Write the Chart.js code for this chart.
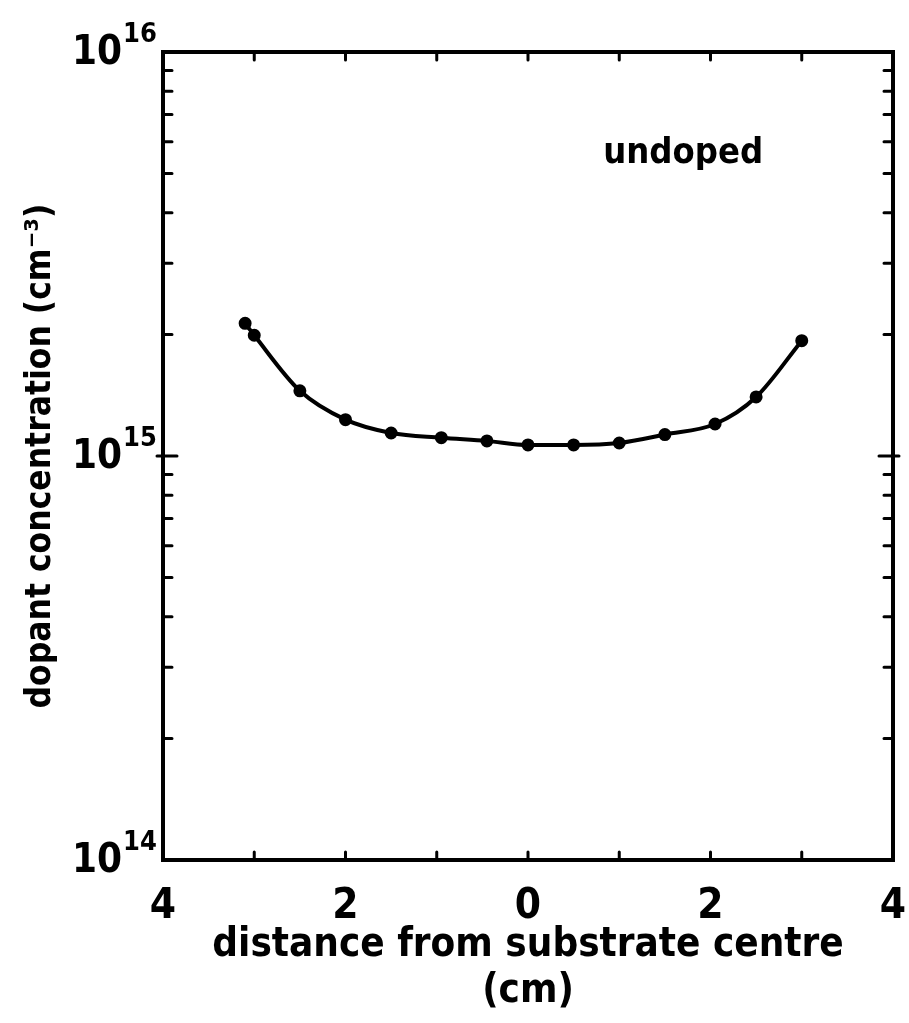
<!DOCTYPE html>
<html>
<head>
<meta charset="utf-8">
<script src="https://cdn.jsdelivr.net/npm/chart.js@4/dist/chart.umd.min.js"></script>
<style>
html,body{margin:0;padding:0;background:#fff;}
#wrap{width:909px;height:1023px;}
</style>
</head>
<body>
<div id="wrap"><canvas id="c" width="909" height="1023"></canvas></div>
<script>
// distance from substrate centre (cm); negative = left side of centre
const distances = [-3.1, -3.0, -2.5, -2.0, -1.5, -0.95, -0.45, 0.0, 0.5, 1.0, 1.5, 2.05, 2.5, 3.0];
// dopant concentration (cm^-3)
const concentrations = [2.13e15, 1.99e15, 1.45e15, 1.23e15, 1.14e15, 1.11e15, 1.09e15, 1.065e15, 1.065e15, 1.077e15, 1.13e15, 1.2e15, 1.4e15, 1.93e15];
const xTickValues = [-4, -2, 0, 2, 4];
const xMinorTicks = [-4, -3, -2, -1, 0, 1, 2, 3, 4];
const yDecades = [14, 15, 16];
const yTickBase = '10';
const annotationText = 'undoped';
const annotationPos = {x: 1.7, y: 5.6e15};

const FONT = '"DejaVu Sans Condensed", "DejaVu Sans", sans-serif';

const points = distances.map((d, i) => ({x: d, y: concentrations[i]}));

const framePlugin = {
  id: 'frame',
  afterDatasetsDraw(chart) {
    const {ctx, chartArea: a, scales: {x, y}} = chart;
    ctx.save();
    ctx.strokeStyle = '#000';
    ctx.lineWidth = 4;
    ctx.lineCap = 'square';
    ctx.strokeRect(a.left, a.top, a.right - a.left, a.bottom - a.top);
    ctx.lineWidth = 3;
    ctx.lineCap = 'round';
    // x ticks (inside, bottom and top)
    xMinorTicks.forEach(v => {
      const px = x.getPixelForValue(v);
      if (Math.abs(px - a.left) < 2 || Math.abs(px - a.right) < 2) return;
      ctx.beginPath();
      ctx.moveTo(px, a.bottom); ctx.lineTo(px, a.bottom - 8);
      ctx.moveTo(px, a.top); ctx.lineTo(px, a.top + 8);
      ctx.stroke();
    });
    // y ticks (inside, left and right), log minor
    for (let e = yDecades[0]; e < yDecades[yDecades.length - 1]; e++) {
      for (let m = 1; m <= 9; m++) {
        const v = m * Math.pow(10, e);
        const py = y.getPixelForValue(v);
        if (Math.abs(py - a.bottom) < 2) continue;
        const len = m === 1 ? 14 : 9;
        ctx.beginPath();
        ctx.moveTo(a.left, py); ctx.lineTo(a.left + len, py);
        ctx.moveTo(a.right, py); ctx.lineTo(a.right - len, py);
        if (m === 1) { ctx.moveTo(a.left, py); ctx.lineTo(a.left - 6, py); ctx.moveTo(a.right, py); ctx.lineTo(a.right + 6, py); }
        ctx.stroke();
      }
    }
    ctx.fillStyle = '#000';
    // y decade labels: 10 with raised exponent
    yDecades.forEach(e => {
      const py = y.getPixelForValue(Math.pow(10, e));
      const xr = a.left - 41;
      ctx.font = 'bold 40px ' + FONT;
      ctx.textAlign = 'right';
      ctx.textBaseline = 'middle';
      ctx.fillText(yTickBase, xr, py + 2);
      ctx.font = 'bold 27px ' + FONT;
      ctx.textAlign = 'left';
      ctx.fillText(String(e), xr + 1, py - 17);
    });
    // annotation
    ctx.font = 'bold 36px ' + FONT;
    ctx.textAlign = 'center';
    ctx.textBaseline = 'middle';
    ctx.fillText(annotationText, x.getPixelForValue(annotationPos.x), y.getPixelForValue(annotationPos.y));
    ctx.restore();
  }
};

new Chart(document.getElementById('c'), {
  type: 'line',
  data: {
    datasets: [{
      data: points,
      borderColor: '#000',
      backgroundColor: '#000',
      borderWidth: 4,
      pointRadius: 4.5,
      pointHoverRadius: 4.5,
      cubicInterpolationMode: 'monotone',
      fill: false
    }]
  },
  options: {
    responsive: false,
    animation: false,
    events: [],
    layout: {padding: {top: 52, right: 16, left: 0, bottom: 0}},
    plugins: {legend: {display: false}, tooltip: {enabled: false}},
    scales: {
      x: {
        type: 'linear',
        min: -4, max: 4,
        afterFit(s) { s.height = 163; s.paddingLeft = 0; s.paddingRight = 0; },
        afterBuildTicks(s) { s.ticks = xTickValues.map(v => ({value: v})); },
        grid: {display: false},
        border: {display: false},
        ticks: {
          color: '#000',
          font: {family: FONT, size: 42, weight: 'bold'},
          padding: 14,
          maxRotation: 0,
          autoSkip: false,
          callback: v => String(Math.abs(v))
        },
        title: {
          display: true,
          text: ['distance from substrate centre', '(cm)'],
          color: '#000',
          font: {family: FONT, size: 40, weight: 'bold', lineHeight: 1.15},
          padding: {top: 0, bottom: 8}
        }
      },
      y: {
        type: 'logarithmic',
        min: 1e14, max: 1e16,
        afterFit(s) { s.width = 163; },
        afterBuildTicks(s) { s.ticks = yDecades.map(e => ({value: Math.pow(10, e)})); },
        grid: {display: false},
        border: {display: false},
        ticks: {display: false},
        title: {
          display: true,
          text: 'dopant concentration (cm\u207B\u00B3)',
          color: '#000',
          font: {family: FONT, size: 35, weight: 'bold', lineHeight: 1.2},
          padding: {top: 20, bottom: 0}
        }
      }
    }
  },
  plugins: [framePlugin]
});
</script>
</body>
</html>
